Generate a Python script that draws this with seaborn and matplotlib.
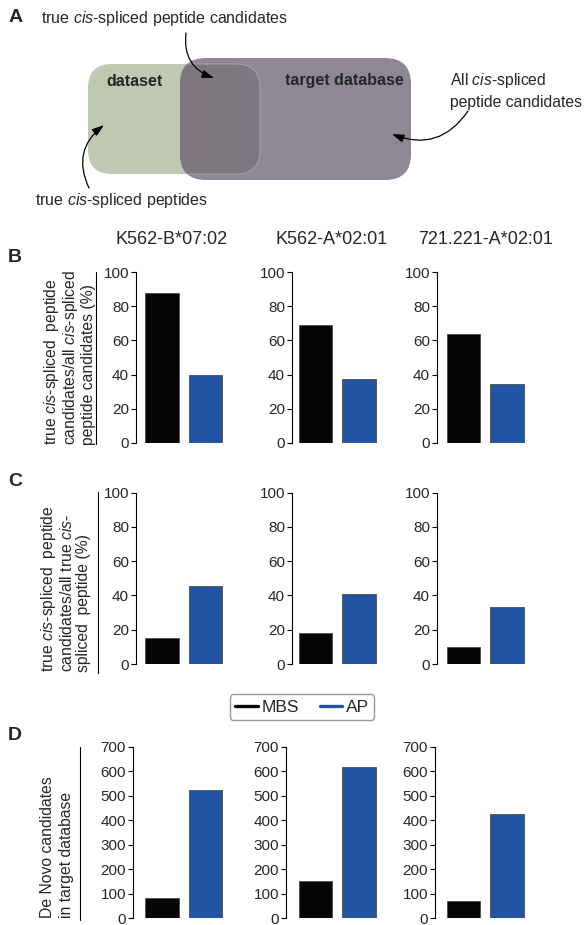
import matplotlib
matplotlib.use('Agg')
import pandas as pd
import matplotlib.pyplot as plt
from matplotlib.patches import FancyBboxPatch
from matplotlib.lines import Line2D
import seaborn as sns

samples = ['K562-B*07:02', 'K562-A*02:01', '721.221-A*02:01']
methods = ['MBS', 'AP']
colors = {'MBS': '#050505', 'AP': '#2154a3'}

# B: true cis-spliced candidates / all cis-spliced candidates (%)
b_mbs = [87.8, 68.9, 63.9]
b_ap = [40.0, 37.3, 34.4]
# C: true cis-spliced candidates / all true cis-spliced peptides (%)
c_mbs = [15.4, 18.1, 9.9]
c_ap = [45.5, 40.9, 33.3]
# D: de novo candidates in target database
d_mbs = [82, 151, 69]
d_ap = [525, 618, 424]

sns.set_theme(style='ticks')
plt.rcParams['font.family'] = ['Liberation Sans', 'DejaVu Sans']
plt.rcParams['mathtext.fontset'] = 'custom'
plt.rcParams['mathtext.rm'] = 'Liberation Sans'
plt.rcParams['mathtext.it'] = 'Liberation Sans:italic'
plt.rcParams['mathtext.bf'] = 'Liberation Sans:bold'

W, H = 585, 925
fig = plt.figure(figsize=(W / 100, H / 100), dpi=100)

# background axes in pixel coordinates for the schematic and labels
bg = fig.add_axes([0, 0, 1, 1])
bg.set_xlim(0, W)
bg.set_ylim(H, 0)
bg.axis('off')

# ---- panel A: venn-like schematic
green = FancyBboxPatch((88, 64), 172, 110, boxstyle='round,pad=0,rounding_size=24',
                       fc='#bfc9b1', ec='none')
purple = FancyBboxPatch((180, 58), 231, 122, boxstyle='round,pad=0,rounding_size=26',
                        fc='#8e8794', ec='none')
overlap = FancyBboxPatch((88, 64), 172, 110, boxstyle='round,pad=0,rounding_size=24',
                         fc='#7e7780', ec='#aaa5ac', lw=0.6)
bg.add_patch(green)
bg.add_patch(purple)
bg.add_patch(overlap)
overlap.set_clip_path(purple)

bg.text(16, 17, 'A', fontsize=14, fontweight='bold', ha='center', va='center')
bg.text(41, 18, r'true $\mathit{cis}$-spliced peptide candidates', fontsize=11.5, va='center')
bg.text(106, 81, 'dataset', fontsize=11.5, fontweight='bold', va='center')
bg.text(285, 81, 'target database', fontsize=11.5, fontweight='bold', va='center')
bg.text(450, 80, r'All $\mathit{cis}$-spliced', fontsize=11.3, va='center')
bg.text(450, 102, 'peptide candidates', fontsize=11.3, va='center')
bg.text(35, 201, r'true $\mathit{cis}$-spliced peptides', fontsize=11.5, va='center')

arrow = dict(arrowstyle='-|>,head_length=0.6,head_width=0.2', color='black', lw=0.9,
             shrinkA=0, shrinkB=0)
bg.annotate('', xy=(214, 78), xytext=(186, 33),
            arrowprops=dict(arrow, connectionstyle='arc3,rad=0.4'))
bg.annotate('', xy=(392, 134), xytext=(468, 111),
            arrowprops=dict(arrow, connectionstyle='arc3,rad=-0.4'))
bg.annotate('', xy=(104, 125), xytext=(89, 188),
            arrowprops=dict(arrow, connectionstyle='arc3,rad=-0.4'))

# ---- column titles and panel letters
for x, s in zip([172, 332, 486], samples):
    bg.text(x, 240, s, fontsize=13, ha='center', va='center')
for y, s in zip([258, 481, 736], ['B', 'C', 'D']):
    bg.text(15, y, s, fontsize=14, fontweight='bold', ha='center', va='center')

# ---- y labels with bracket lines
bg.text(69, 445, 'true $\\mathit{cis}$-spliced  peptide\ncandidates/all $\\mathit{cis}$-spliced\n'
        'peptide candidates (%)', rotation=90, fontsize=11.3, ha='center', va='bottom',
        multialignment='left', linespacing=1.0)
bg.plot([96, 96], [272, 444], color='black', lw=0.8)
bg.text(65, 672, 'true $\\mathit{cis}$-spliced  peptide\ncandidates/all true $\\mathit{cis}$-\n'
        'spliced  peptide (%)', rotation=90, fontsize=11.3, ha='center', va='bottom',
        multialignment='left', linespacing=1.1)
bg.plot([98, 98], [492, 673], color='black', lw=0.8)
bg.text(57, 918, 'De Novo candidates\nin target database', rotation=90, fontsize=11.3,
        ha='center', va='bottom', multialignment='left', linespacing=1.25)
bg.plot([80, 80], [747, 920], color='black', lw=0.8)

# ---- bar panels
centers = [162, 315.5, 463.5]   # px position of the MBS bar in each column
step = 43.5                      # px between the two bars
panels = [
    (b_mbs, b_ap, 272, 443, [136, 292, 437], 100, range(0, 101, 20)),
    (c_mbs, c_ap, 492.5, 664, [136, 292, 437], 100, range(0, 101, 20)),
    (d_mbs, d_ap, 747, 918, [133, 286, 435], 700, range(0, 701, 100)),
]

for mbs, ap, ytop, ybot, spines, ymax, ticks in panels:
    for i in range(3):
        df = pd.DataFrame({'method': methods, 'value': [mbs[i], ap[i]]})
        xl = -(centers[i] - spines[i]) / step
        ax = fig.add_axes([spines[i] / W, 1 - ybot / H, (1.5 - xl) * step / W, (ybot - ytop) / H])
        ax.patch.set_alpha(0)
        sns.barplot(data=df, x='method', y='value', hue='method', palette=colors,
                    saturation=1, width=0.76, edgecolor='0.3', linewidth=0.6,
                    legend=False, ax=ax)
        ax.set_xlim(xl, 1.5)
        ax.set_ylim(0, ymax)
        ax.set_yticks(list(ticks))
        ax.set_xticks([])
        ax.set_xlabel('')
        ax.set_ylabel('')
        sns.despine(ax=ax, bottom=True)
        ax.spines['left'].set_linewidth(0.8)
        ax.spines['left'].set_color('black')
        ax.tick_params(axis='y', direction='out', length=3.5, width=0.8, pad=1.5,
                       labelsize=11, color='black')

handles = [Line2D([], [], color=colors[m], lw=2.4) for m in methods]
fig.legend(handles, methods, loc='center', bbox_to_anchor=(302 / W, 1 - 707 / H), ncol=2,
           fontsize=12.5, frameon=True, fancybox=True, edgecolor='0.5',
           handlelength=1.3, handletextpad=0.2, columnspacing=1.2, borderpad=0.3)

fig.savefig('out.png', dpi=100)
